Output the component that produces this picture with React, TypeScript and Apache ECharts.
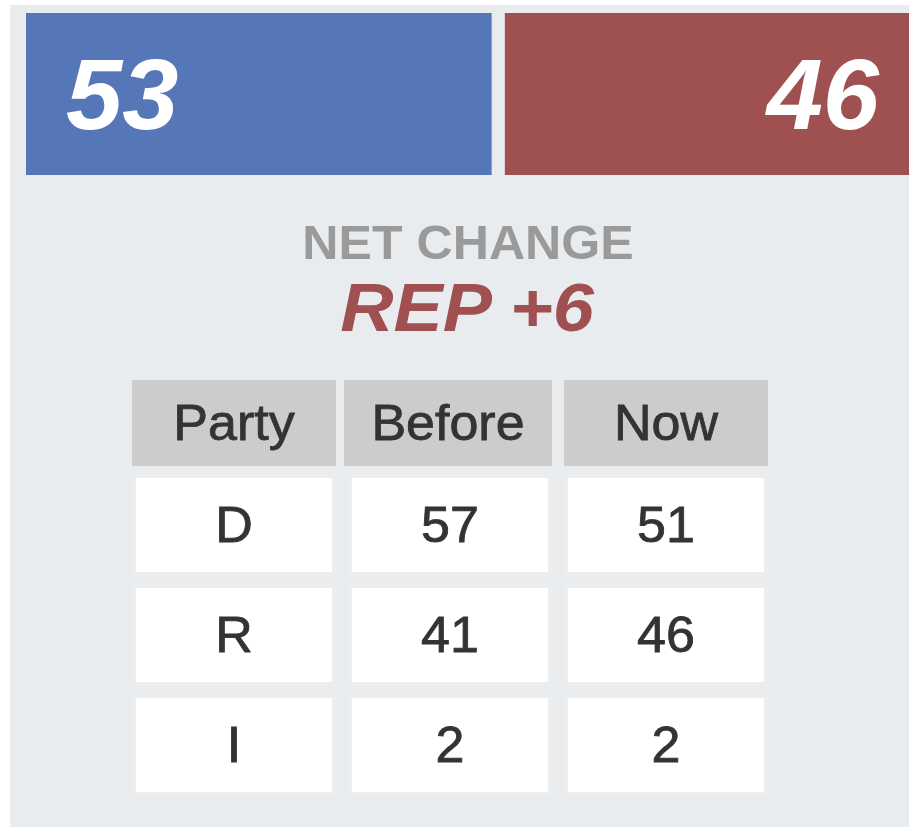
import React, { useEffect, useRef } from "react";
import * as echarts from "echarts";

// ---- data ----
const seatParties = ["D", "R"];
const seatCounts = [53, 46];
const netChangeTitle = "NET CHANGE";
const netChangeText = "REP +6";
const tableColumns = ["Party", "Before", "Now"];
const tableParties = ["D", "R", "I"];
const seatsBefore = [57, 41, 2];
const seatsNow = [51, 46, 2];

// ---- layout constants ----
const BAR_GAP = 1.5;
const FONT = "'Liberation Sans', Arial, Helvetica, sans-serif";

type Cell = { col: number; row: number; text: string; header: boolean };

function buildCells(): Cell[] {
  const cells: Cell[] = [];
  tableColumns.forEach((c, i) => cells.push({ col: i, row: 0, text: c, header: true }));
  tableParties.forEach((p, r) => {
    cells.push({ col: 0, row: r + 1, text: p, header: false });
    cells.push({ col: 1, row: r + 1, text: String(seatsBefore[r]), header: false });
    cells.push({ col: 2, row: r + 1, text: String(seatsNow[r]), header: false });
  });
  return cells;
}

export default function App() {
  const ref = useRef<HTMLDivElement>(null);
  useEffect(() => {
    if (!ref.current) return;
    const chart = echarts.init(ref.current, null, { renderer: "svg" });
    const cells = buildCells();
    const rowCats = ["header", ...tableParties];

    const cellText = (x: number, y: number, text: string) => ({
      type: "text",
      x,
      y,
      scaleX: 1.04,
      style: {
        text,
        fill: "#333333",
        stroke: "#333333",
        lineWidth: 0.8,
        font: `50px ${FONT}`,
        align: "center",
        verticalAlign: "middle",
      },
    });

    chart.setOption({
      animation: false,
      backgroundColor: "#ffffff",
      graphic: [
        {
          type: "rect",
          z: -10,
          shape: { x: 10, y: 5, width: 899, height: 822 },
          style: { fill: "#e9ecef" },
          silent: true,
        },
        {
          type: "text",
          x: 468,
          y: 242,
          scaleX: 1.045,
          style: {
            text: netChangeTitle,
            fill: "#9a9a9a",
            font: `bold 48px ${FONT}`,
            align: "center",
            verticalAlign: "middle",
          },
        },
        {
          type: "text",
          x: 467,
          y: 307,
          scaleX: 1.07,
          style: {
            text: netChangeText,
            fill: "#a05050",
            font: `italic bold 69px ${FONT}`,
            align: "center",
            verticalAlign: "middle",
          },
        },
      ],
      grid: [
        { left: 26, top: 13, width: 892, height: 162, containLabel: false },
        { left: 126, top: 360, width: 648, height: 440, containLabel: false },
      ],
      xAxis: [
        { type: "value", gridIndex: 0, min: 0, max: seatCounts[0] + BAR_GAP + seatCounts[1], show: false },
        { type: "category", gridIndex: 1, data: tableColumns, show: false },
      ],
      yAxis: [
        { type: "category", gridIndex: 0, data: ["seats"], show: false },
        { type: "category", gridIndex: 1, data: rowCats, inverse: true, show: false },
      ],
      series: [
        {
          type: "bar",
          name: seatParties[0],
          stack: "s",
          xAxisIndex: 0,
          yAxisIndex: 0,
          barWidth: "100%",
          data: [seatCounts[0]],
          itemStyle: { color: "#5577b7" },
          label: {
            show: true,
            position: [40, "50%"],
            align: "left",
            verticalAlign: "middle",
            color: "#ffffff",
            fontFamily: FONT,
            fontWeight: "bold",
            fontStyle: "italic",
            fontSize: 101,
          },
        },
        {
          type: "bar",
          name: "gap",
          stack: "s",
          xAxisIndex: 0,
          yAxisIndex: 0,
          barWidth: "100%",
          data: [BAR_GAP],
          itemStyle: { color: "rgba(0,0,0,0)" },
          silent: true,
        },
        {
          type: "bar",
          name: seatParties[1],
          stack: "s",
          xAxisIndex: 0,
          yAxisIndex: 0,
          barWidth: "100%",
          data: [seatCounts[1]],
          itemStyle: { color: "#9f5151" },
          label: {
            show: true,
            position: "insideRight",
            distance: 30,
            color: "#ffffff",
            fontFamily: FONT,
            fontWeight: "bold",
            fontStyle: "italic",
            fontSize: 101,
          },
        },
        {
          type: "custom",
          xAxisIndex: 1,
          yAxisIndex: 1,
          data: cells.map((c) => [c.col, c.row]),
          renderItem: (params: any, api: any) => {
            const cell = cells[params.dataIndex];
            const pt = api.coord([api.value(0), api.value(1)]);
            const cx = pt[0];
            const cy = pt[1];
            if (cell.header) {
              const w = cell.col === 1 ? 208 : 204;
              const sx = cell.col === 1 ? -2 : 0;
              return {
                type: "group",
                children: [
                  {
                    type: "rect",
                    shape: { x: cx - w / 2 + sx, y: cy - 35, width: w, height: 86 },
                    style: { fill: "#cccccc" },
                  },
                  cellText(cx + sx, cy + 8, cell.text),
                ],
              };
            }
            return {
              type: "group",
              children: [
                {
                  type: "rect",
                  shape: { x: cx - 102, y: cy - 51, width: 204, height: 102 },
                  style: { fill: "#ededed" },
                },
                {
                  type: "rect",
                  shape: { x: cx - 98, y: cy - 47, width: 196, height: 94 },
                  style: { fill: "#ffffff" },
                },
                cellText(cx, cy, cell.text),
              ],
            };
          },
        },
      ],
    });
    return () => chart.dispose();
  }, []);

  return (
    <div
      ref={ref}
      style={{ position: "fixed", left: 0, top: 0, width: 909, height: 827 }}
    />
  );
}
